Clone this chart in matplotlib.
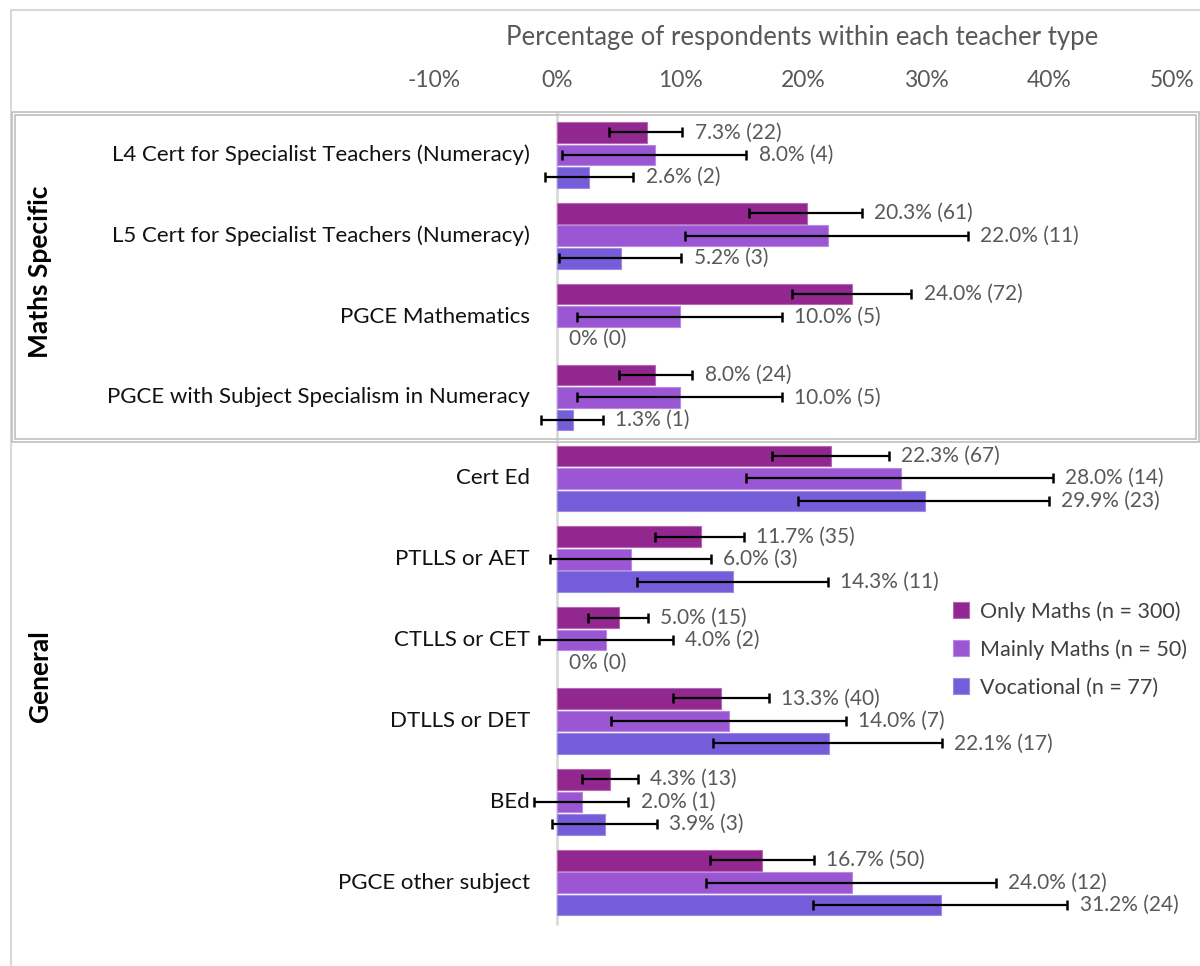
import matplotlib.pyplot as plt
from matplotlib.patches import Rectangle
import numpy as np

plt.rcParams['font.family'] = ['Lato', 'DejaVu Sans']

# data
categories = ['L4 Cert for Specialist Teachers (Numeracy)',
              'L5 Cert for Specialist Teachers (Numeracy)',
              'PGCE Mathematics',
              'PGCE with Subject Specialism in Numeracy',
              'Cert Ed', 'PTLLS or AET', 'CTLLS or CET', 'DTLLS or DET',
              'BEd', 'PGCE other subject']
series = ['Only Maths (n = 300)', 'Mainly Maths (n = 50)', 'Vocational (n = 77)']

only_pct = [7.3, 20.3, 24.0, 8.0, 22.3, 11.7, 5.0, 13.3, 4.3, 16.7]
only_n = [22, 61, 72, 24, 67, 35, 15, 40, 13, 50]
only_lo = [4.2, 15.6, 19.1, 5.0, 17.5, 8.0, 2.5, 9.4, 2.0, 12.4]
only_hi = [10.2, 24.8, 28.8, 11.0, 27.0, 15.2, 7.4, 17.2, 6.6, 20.9]

mainly_pct = [8.0, 22.0, 10.0, 10.0, 28.0, 6.0, 4.0, 14.0, 2.0, 24.0]
mainly_n = [4, 11, 5, 5, 14, 3, 2, 7, 1, 12]
mainly_lo = [0.4, 10.4, 1.6, 1.6, 15.4, -0.6, -1.5, 4.4, -1.9, 12.1]
mainly_hi = [15.4, 33.4, 18.3, 18.3, 40.3, 12.5, 9.4, 23.5, 5.8, 35.7]

voc_pct = [2.6, 5.2, 0.0, 1.3, 29.9, 14.3, 0.0, 22.1, 3.9, 31.2]
voc_n = [2, 3, 0, 1, 23, 11, 0, 17, 3, 24]
voc_lo = [-1.0, 0.2, np.nan, -1.3, 19.6, 6.5, np.nan, 12.7, -0.4, 20.8]
voc_hi = [6.2, 10.1, np.nan, 3.7, 40.0, 22.0, np.nan, 31.3, 8.1, 41.5]

ticks = [-10, 0, 10, 20, 30, 40, 50]

colors = ['#92278F', '#9B57D3', '#755DD9']
edges = ['#B768B4', '#B98AE0', '#9D8AE4']

W, H = 1200, 966
fig = plt.figure(figsize=(W / 100, H / 100), dpi=100)


def fx(x):
    return x / W


def fy(y):
    return 1 - y / H


ax = fig.add_axes([0, 0, 1, fy(112)])
ax.set_xlim((0 - 557) / 12.3, (W - 557) / 12.3)
ax.set_ylim(10.03, -0.53)
for s in ax.spines.values():
    s.set_visible(False)
ax.set_yticks([])
ax.xaxis.tick_top()
ax.set_xticks(ticks)
ax.set_xticklabels([f'{t}%' for t in ticks])
ax.tick_params(axis='x', length=0, pad=15, labelsize=16.5, labelcolor='#595959')

ax.vlines(0, -0.53, 9.52, color='#D9D9D9', lw=2, zorder=1)

y = np.arange(len(categories))
offs = [-0.278, 0, 0.278]
all_pct = [only_pct, mainly_pct, voc_pct]
all_n = [only_n, mainly_n, voc_n]
all_lo = [only_lo, mainly_lo, voc_lo]
all_hi = [only_hi, mainly_hi, voc_hi]

for k in range(3):
    pct = np.array(all_pct[k], dtype=float)
    lo = np.array(all_lo[k], dtype=float)
    hi = np.array(all_hi[k], dtype=float)
    yy = y + offs[k]
    ax.barh(yy, pct, height=0.255, color=colors[k], edgecolor=edges[k],
            linewidth=np.where(pct > 0, 0.8, 0), label=series[k], zorder=2)
    ok = ~np.isnan(lo)
    ax.errorbar(pct[ok], yy[ok], xerr=[pct[ok] - lo[ok], hi[ok] - pct[ok]],
                fmt='none', ecolor='black', elinewidth=1.6, capsize=3.8,
                capthick=1.8, zorder=3)
    for i in range(len(pct)):
        end = hi[i] if ok[i] else pct[i]
        txt = f'{pct[i]:.1f}% ({all_n[k][i]})' if pct[i] > 0 else '0% (0)'
        ax.text(end + 1.0, yy[i], txt, ha='left', va='center',
                fontsize=15, color='#595959', zorder=4)

for i, c in enumerate(categories):
    ax.text(-2.2, i, c, ha='right', va='center', fontsize=16, color='#111111')

# axis title and group labels
fig.text(fx(802), fy(38), 'Percentage of respondents within each teacher type',
         ha='center', va='center', fontsize=18.5, color='#595959')
fig.text(fx(40), fy(272), 'Maths Specific', rotation=90, ha='center',
         va='center', fontsize=19, weight='bold')
fig.text(fx(40), fy(676), 'General', rotation=90, ha='center',
         va='center', fontsize=19, weight='bold')

# frames
fig.patches.append(Rectangle((fx(11), fy(H + 5)), fx(W + 20), fy(10) - fy(H + 5),
                             transform=fig.transFigure, fill=False,
                             ec='#D9D9D9', lw=1.5))
fig.patches.append(Rectangle((fx(12), fy(442)), fx(1199 - 12), fy(112) - fy(442),
                             transform=fig.transFigure, fill=False,
                             ec='#BFBFBF', lw=1.2))
fig.patches.append(Rectangle((fx(15), fy(439)), fx(1196 - 15), fy(115) - fy(439),
                             transform=fig.transFigure, fill=False,
                             ec='#BFBFBF', lw=1.2))

fig.legend(loc='upper left', bbox_to_anchor=(fx(953), fy(601)), frameon=False,
           fontsize=15.5, handlelength=0.75, handleheight=0.75, handletextpad=0.5,
           labelspacing=0.82, borderaxespad=0, borderpad=0,
           labelcolor='#404040')

fig.savefig('out.png', dpi=100)
